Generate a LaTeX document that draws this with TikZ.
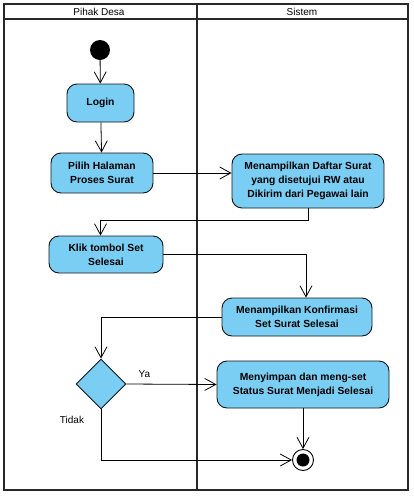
\documentclass[tikz,border=0pt]{standalone}
\usepackage{fontspec}
\setmainfont{Liberation Sans}
\usetikzlibrary{positioning,arrows.meta,shapes.geometric}
\definecolor{cAct}{RGB}{122,206,244}
\definecolor{cEdge}{RGB}{20,20,20}
\definecolor{cLane}{RGB}{40,40,40}
\tikzset{
  act/.style={
    rectangle, rounded corners=10pt, draw=cEdge, line width=0.9pt,
    fill=cAct, align=center, text=black,
    font=\fontsize{10.3}{14}\selectfont\bfseries,
    inner sep=2pt,
  },
  dec/.style={diamond, draw=cEdge, line width=0.9pt, fill=cAct,
    inner sep=0pt, minimum size=50pt},
  startpt/.style={circle, fill=black, inner sep=0pt, minimum size=20pt},
  endpt/.style={circle, draw=black, line width=0.9pt, fill=white, inner sep=0pt,
    minimum size=21pt,
    path picture={\fill[black] (path picture bounding box.center) circle (6.5pt);}},
  lab/.style={font=\fontsize{10}{12}\selectfont, text=black},
  arr/.style={-{Straight Barb[length=11pt,width=12pt,line width=0.8pt]},
    line width=0.8pt, draw=black},
}
\begin{document}
\begin{tikzpicture}[x=1pt,y=-1pt]
\useasboundingbox (0,0) rectangle (414,496);

% ===== swimlanes =====
\draw[cLane, line width=2pt] (4,4) rectangle (408,490);
\draw[cLane, line width=1.8pt] (4,19) -- (408,19);
\draw[cLane, line width=2pt] (197,4) -- (197,490);
\node[lab] (laneA) at (99,12) {Pihak Desa};
\node[lab] (laneB) at (302,12) {Sistem};

% ===== activities =====
\node[startpt] (start) at (100,50) {};
\node[act, minimum width=67pt, minimum height=38pt] (login) at (100.5,103) {Login};
\node[act, minimum width=102pt, minimum height=40pt] (pilih) at (102,173)
  {Pilih Halaman\\ Proses Surat};
\node[act, minimum width=152pt, minimum height=54pt] (daftar) at (308,181)
  {Menampilkan Daftar Surat\\ yang disetujui RW atau\\ Dikirim dari Pegawai lain};
\node[act, minimum width=114pt, minimum height=37pt] (klik) at (106,254.5)
  {Klik tombol Set\\ Selesai};
\node[act, minimum width=150pt, minimum height=38pt] (konf) at (297,317)
  {Menampilkan Konfirmasi\\ Set Surat Selesai};
\node[dec] (cek) at (101,384) {};
\node[act, minimum width=172pt, minimum height=47pt] (simpan) at (303,384.5)
  {Menyimpan dan meng-set\\ Status Surat Menjadi Selesai};
\node[endpt] (final) at (303,460) {};

% ===== flows =====
\draw[arr] (start) -- (login);
\draw[arr] (login) -- (pilih);
\draw[arr] (pilih.east) -- (pilih.east -| daftar.west);
\draw[arr] (daftar.south) -- ++(0,12) -| (klik.north -| login);
\draw[arr] (klik.east) -| ([xshift=9pt]konf.north);
\draw[arr] (konf.west) -| (cek.north);
\draw[arr] (cek.east) -- (simpan.west) node[lab, pos=0.2, above=3pt] {Ya};
\draw[arr] (simpan.south) -- (final.north);
\draw[arr] (cek.south) |- (final.west);
\node[lab] (tidak) at (72,420) {Tidak};

\end{tikzpicture}
\end{document}
